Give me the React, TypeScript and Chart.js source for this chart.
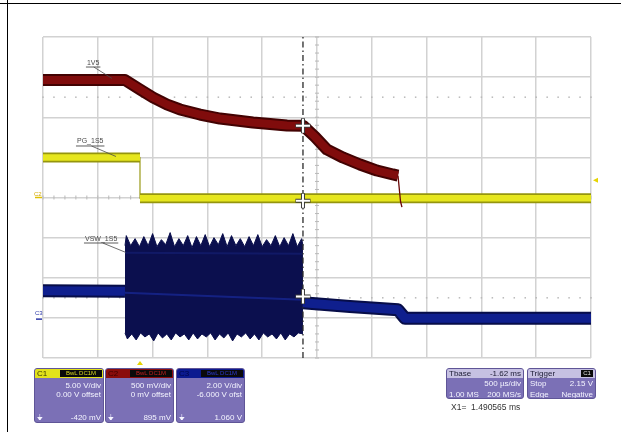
import React, { useEffect, useRef } from "react";
import { Chart, registerables } from "chart.js";
Chart.register(...registerables);

// Time axis: ms from the left edge of the screen, 500 us/div, 10 div
const timeMin = 0;
const timeMax = 5;
const timeDiv = 0.5;
// Channel ranges (8 div): C1 5 V/div, C2 500 mV/div, C3 2 V/div with -6 V offset
const c1Min = -20, c1Max = 20, c1Div = 5;
const c2Min = -2, c2Max = 2;
const c3Min = -2, c3Max = 14;

// C2 (red) "1V5" trace, volts
const v15T = [0, 0.748, 0.885, 1.004, 1.131, 1.25, 1.432, 1.615, 1.916, 2.226, 2.372, 2.482, 2.591, 2.737, 2.892, 3.047, 3.193, 3.239];
const v15V = [1.464, 1.464, 1.346, 1.246, 1.159, 1.097, 1.034, 0.984, 0.934, 0.897, 0.895, 0.755, 0.598, 0.498, 0.411, 0.336, 0.287, 0.274];
const v15DropT = [3.239, 3.262, 3.275];
const v15DropV = [0.274, -0.05, -0.12];

// C1 (yellow) "PG_1S5" trace, volts
const pgHighT = [0, 0.885];
const pgHighV = [5.0, 5.0];
const pgEdgeT = [0.885, 0.885];
const pgEdgeV = [5.0, -0.1];
const pgLowT = [0.885, 5];
const pgLowV = [-0.1, -0.1];

// C3 (blue) "VSW_1S5" trace, volts
const swPreT = [0, 0.748];
const swPreV = [1.35, 1.33];
const swPostT = [2.372, 2.8, 3.239, 3.303, 5];
const swPostV = [0.75, 0.57, 0.4, -0.02, -0.02];
// switching burst envelope (peaks)
const burstTopT = [0.748, 0.76, 0.8, 0.84, 0.88, 0.92, 0.96, 1.0, 1.04, 1.08, 1.12, 1.16, 1.2, 1.24, 1.28, 1.32, 1.36, 1.4, 1.44, 1.48, 1.52, 1.56, 1.6, 1.64, 1.68, 1.72, 1.76, 1.8, 1.84, 1.88, 1.92, 1.96, 2.0, 2.04, 2.08, 2.12, 2.16, 2.2, 2.24, 2.28, 2.32, 2.36, 2.372];
const burstTopV = [3.6, 4.1, 3.6, 3.95, 3.55, 4.05, 3.6, 4.2, 3.55, 3.9, 3.65, 4.25, 3.55, 3.95, 3.6, 4.1, 3.5, 4.05, 3.6, 4.15, 3.55, 4.0, 3.65, 4.2, 3.55, 4.1, 3.6, 3.95, 3.55, 4.05, 3.6, 4.15, 3.55, 3.9, 3.6, 4.1, 3.55, 4.0, 3.6, 4.2, 3.55, 3.95, 3.6];
const burstBotT = [0.748, 0.77, 0.81, 0.85, 0.89, 0.93, 0.97, 1.01, 1.05, 1.09, 1.13, 1.17, 1.21, 1.25, 1.29, 1.33, 1.37, 1.41, 1.45, 1.49, 1.53, 1.57, 1.61, 1.65, 1.69, 1.73, 1.77, 1.81, 1.85, 1.89, 1.93, 1.97, 2.01, 2.05, 2.09, 2.13, 2.17, 2.21, 2.25, 2.29, 2.33, 2.372];
const burstBotV = [-0.75, -1.05, -0.8, -1.1, -0.75, -0.95, -0.8, -1.15, -0.75, -1.0, -0.8, -1.1, -0.75, -0.95, -0.8, -1.1, -0.75, -1.05, -0.8, -0.95, -0.75, -1.1, -0.8, -1.0, -0.75, -1.15, -0.8, -0.95, -0.75, -1.05, -0.8, -1.1, -0.75, -0.95, -0.8, -1.05, -0.75, -1.1, -0.8, -0.95, -0.75, -0.8];
const burstMidT = [0.748, 2.372];
const burstMidV = [1.25, 0.9];
const burstUpperT = [0.748, 2.372];
const burstUpperV = [3.25, 3.2];

// Cursor X1 and the readings at it
const cursorT = 2.372;
const cursorC1 = -0.42;
const cursorC2 = 0.895;
const cursorC3 = 1.06;

// trigger
const triggerT = 0.885;
const triggerLevel = 2.15;

const traceLabels = ["1V5", "PG_1S5", "VSW_1S5"];

const pts = (t: number[], v: number[]) => t.map((x, i) => ({ x, y: v[i] }));

const font = '"Liberation Sans", Arial, sans-serif';

const scopePlugin = {
  id: "scopeDecor",
  beforeDatasetsDraw(chart: any) {
    const { ctx, chartArea } = chart;
    const xs = chart.scales.x;
    const c1 = chart.scales.c1;
    ctx.save();
    // minor ticks on center axes and dotted +/-2.5 div lines
    const minorT = timeDiv / 5;
    const minorV = c1Div / 5;
    const cx = xs.getPixelForValue((timeMin + timeMax) / 2);
    const cy = c1.getPixelForValue(0);
    ctx.fillStyle = "#b8b8b8";
    for (let t = timeMin; t <= timeMax + 1e-6; t += minorT) {
      const px = xs.getPixelForValue(t);
      ctx.fillRect(px - 0.5, cy - 2, 1, 4);
      for (const lv of [2.5 * c1Div, -2.5 * c1Div]) {
        const py = c1.getPixelForValue(lv);
        ctx.fillRect(px - 0.75, py - 0.75, 1.5, 1.5);
      }
    }
    for (let v = c1Min; v <= c1Max + 1e-6; v += minorV) {
      const py = c1.getPixelForValue(v);
      ctx.fillRect(cx - 2, py - 0.5, 4, 1);
    }
    ctx.restore();
  },
  afterDraw(chart: any) {
    const { ctx, chartArea } = chart;
    const xs = chart.scales.x;
    const c1 = chart.scales.c1;
    const c3 = chart.scales.c3;
    ctx.save();
    // trace name annotations
    const ann = [
      { text: traceLabels[0], t: 0.401, v: 16.57, et: 0.63, ev: 14.83 },
      { text: traceLabels[1], t: 0.31, v: 6.73, et: 0.666, ev: 5.11 },
      { text: traceLabels[2], t: 0.383, v: -5.36, et: 0.757, ev: -6.85 },
    ];
    ctx.font = "7px " + font;
    ctx.fillStyle = "#4a4a4a";
    ctx.strokeStyle = "#4a4a4a";
    ctx.textBaseline = "alphabetic";
    for (const a of ann) {
      const px = xs.getPixelForValue(a.t);
      const py = c1.getPixelForValue(a.v);
      ctx.fillText(a.text, px, py);
      const w = ctx.measureText(a.text).width;
      ctx.lineWidth = 0.9;
      ctx.beginPath();
      ctx.moveTo(px - 1, py + 2.5);
      ctx.lineTo(px + w + 1, py + 2.5);
      ctx.stroke();
      ctx.lineWidth = 0.8;
      ctx.beginPath();
      ctx.moveTo(px + w * 0.55, py + 2.5);
      ctx.lineTo(xs.getPixelForValue(a.et), c1.getPixelForValue(a.ev));
      ctx.stroke();
    }
    // trigger position marker (below grid)
    const tx = xs.getPixelForValue(triggerT);
    ctx.fillStyle = "#e6d400";
    ctx.beginPath();
    ctx.moveTo(tx, chartArea.bottom + 3);
    ctx.lineTo(tx - 3, chartArea.bottom + 7);
    ctx.lineTo(tx + 3, chartArea.bottom + 7);
    ctx.closePath();
    ctx.fill();
    // trigger level marker (right)
    const ly = c1.getPixelForValue(triggerLevel);
    ctx.beginPath();
    ctx.moveTo(chartArea.right + 2, ly);
    ctx.lineTo(chartArea.right + 7, ly - 2.5);
    ctx.lineTo(chartArea.right + 7, ly + 2.5);
    ctx.closePath();
    ctx.fill();
    // channel ground markers
    const g1 = c1.getPixelForValue(0);
    ctx.fillStyle = "#e0c000";
    ctx.fillRect(chartArea.left - 8, g1 - 0.75, 7, 1.5);
    ctx.font = "6px " + font;
    ctx.fillStyle = "#d4a800";
    ctx.fillText("C2", chartArea.left - 9, g1 - 2);
    const g3 = c3.getPixelForValue(0);
    ctx.fillStyle = "#2a36a8";
    ctx.fillRect(chartArea.left - 7, g3 + 0.5, 6, 1.5);
    ctx.fillText("C3", chartArea.left - 8, g3 - 3);
    ctx.restore();
  },
};

export default function App() {
  const ref = useRef<HTMLCanvasElement>(null);
  useEffect(() => {
    if (!ref.current) return;
    const thick = (data: any, axis: string, color: string, width: number, order: number) => ({
      type: "line" as const,
      data,
      yAxisID: axis,
      borderColor: color,
      borderWidth: width,
      pointRadius: 0,
      tension: 0,
      fill: false,
      borderJoinStyle: "round" as const,
      borderCapStyle: "butt" as const,
      order,
    });
    const datasets: any[] = [
      // crosses at cursor
      {
        type: "line", data: [{ x: cursorT, y: cursorC2 }], yAxisID: "c2", showLine: false,
        pointStyle: "cross", pointRadius: 7, pointBorderWidth: 2, pointBorderColor: "#ffffff", order: 0,
      },
      {
        type: "line", data: [{ x: cursorT, y: cursorC1 }], yAxisID: "c1", showLine: false,
        pointStyle: "cross", pointRadius: 7, pointBorderWidth: 2, pointBorderColor: "#ffffff", order: 0,
      },
      {
        type: "line", data: [{ x: cursorT, y: cursorC3 }], yAxisID: "c3", showLine: false,
        pointStyle: "cross", pointRadius: 7, pointBorderWidth: 2, pointBorderColor: "#ffffff", order: 0,
      },
      {
        type: "line", data: [{ x: cursorT, y: cursorC2 }, { x: cursorT, y: null }], yAxisID: "c2", showLine: false,
        pointStyle: "cross", pointRadius: 7.5, pointBorderWidth: 4, pointBorderColor: "#3a3a3a", order: 1,
      },
      {
        type: "line", data: [{ x: cursorT, y: cursorC1 }], yAxisID: "c1", showLine: false,
        pointStyle: "cross", pointRadius: 7.5, pointBorderWidth: 4, pointBorderColor: "#3a3a3a", order: 1,
      },
      {
        type: "line", data: [{ x: cursorT, y: cursorC3 }], yAxisID: "c3", showLine: false,
        pointStyle: "cross", pointRadius: 7.5, pointBorderWidth: 4, pointBorderColor: "#3a3a3a", order: 1,
      },
      // cursor line
      {
        type: "line", data: [{ x: cursorT, y: c1Min }, { x: cursorT, y: c1Max }], yAxisID: "c1",
        borderColor: "#2a2a2a", borderWidth: 1.3, borderDash: [6, 3, 1.5, 3], pointRadius: 0, order: 2,
      },
      // red drop edge
      thick(pts(v15DropT, v15DropV), "c2", "#6a0606", 1.3, 3),
      // yellow
      thick(pts(pgHighT, pgHighV), "c1", "#e6e61e", 6.5, 4),
      thick(pts(pgLowT, pgLowV), "c1", "#e6e61e", 6.5, 4),
      thick(pts(pgHighT, pgHighV), "c1", "#95950e", 10, 5),
      thick(pts(pgLowT, pgLowV), "c1", "#95950e", 10, 5),
      thick(pts(pgEdgeT, pgEdgeV), "c1", "#9a9a18", 1.2, 5),
      // red
      thick(pts(v15T, v15V), "c2", "#800c0c", 8, 6),
      thick(pts(v15T, v15V), "c2", "#420202", 12, 7),
      // blue
      thick(pts(swPreT, swPreV), "c3", "#0f1f8e", 9, 8),
      thick(pts(swPostT, swPostV), "c3", "#0f1f8e", 9, 8),
      thick(pts(swPreT, swPreV), "c3", "#070d48", 13, 9),
      thick(pts(swPostT, swPostV), "c3", "#070d48", 13, 9),
      thick(pts(burstMidT, burstMidV), "c3", "rgba(30,50,175,0.55)", 2, 8),
      thick(pts(burstUpperT, burstUpperV), "c3", "rgba(30,45,150,0.35)", 2, 8),
      {
        type: "line", data: pts(burstTopT, burstTopV), yAxisID: "c3", borderColor: "#0a0e4c",
        borderWidth: 1, pointRadius: 0, tension: 0, fill: "+1", backgroundColor: "#0b0f4e", order: 10,
      },
      {
        type: "line", data: pts(burstBotT, burstBotV), yAxisID: "c3", borderColor: "#0a0e4c",
        borderWidth: 1, pointRadius: 0, tension: 0, fill: false, order: 10,
      },
    ];
    const gridColor = "#d2d2d2";
    const chart = new Chart(ref.current, {
      type: "line",
      data: { datasets },
      options: {
        animation: false,
        responsive: false,
        events: [],
        layout: { padding: { left: 43, top: 37, right: 30, bottom: 74 } },
        plugins: { legend: { display: false }, tooltip: { enabled: false } },
        scales: {
          x: {
            type: "linear", min: timeMin, max: timeMax,
            ticks: { stepSize: timeDiv, display: false },
            grid: { color: gridColor, lineWidth: 1.5, drawTicks: false },
            border: { display: false },
          },
          c1: {
            type: "linear", position: "left", min: c1Min, max: c1Max,
            ticks: { stepSize: c1Div, display: false },
            grid: { color: gridColor, lineWidth: 1.5, drawTicks: false },
            border: { display: false },
          },
          c2: { type: "linear", display: false, min: c2Min, max: c2Max },
          c3: { type: "linear", display: false, min: c3Min, max: c3Max },
        },
      } as any,
      plugins: [scopePlugin],
    });
    return () => chart.destroy();
  }, []);

  const box: React.CSSProperties = {
    position: "absolute", background: "#7b70b6", borderRadius: 3, border: "1px solid #5f5597",
    boxSizing: "border-box", overflow: "hidden", color: "#f4f4ff", font: "8px " + font,
  };
  const row = (top: number, content: React.ReactNode, extra: React.CSSProperties = {}) => (
    <div style={{ position: "absolute", left: 2, right: 2, top, height: 10, lineHeight: "10px", display: "flex", justifyContent: "space-between", whiteSpace: "nowrap", ...extra }}>{content}</div>
  );
  const chBox = (left: number, width: number, name: string, hdr: string, hdrText: string, tagText: string, vdiv: string, ofs: string, val: string) => (
    <div style={{ ...box, left, top: 368, width, height: 55 }}>
      <div style={{ position: "absolute", left: 0, top: 0, right: 0, height: 9, background: hdr }} />
      <div style={{ position: "absolute", left: 2, top: 0, height: 9, lineHeight: "9px", color: hdrText, fontSize: 8 }}>{name}</div>
      <div style={{ position: "absolute", right: 1, top: 1, height: 7, width: 42, background: "#0a0a0a", color: tagText, fontSize: 6, lineHeight: "7px", textAlign: "center", whiteSpace: "nowrap" }}>BwL DC1M</div>
      {row(12, <><span /><span>{vdiv}</span></>)}
      {row(21, <><span /><span>{ofs}</span></>)}
      {row(44, <><span>⏚</span><span>{val}</span></>)}
    </div>
  );

  return (
    <div style={{ position: "absolute", left: 0, top: 0, width: 621, height: 432, background: "#ffffff", overflow: "hidden" }}>
      <canvas ref={ref} width={621} height={432} style={{ position: "absolute", left: 0, top: 0, width: 621, height: 432 }} />
      <div style={{ position: "absolute", left: 0, top: 3, width: 621, height: 1.3, background: "#000" }} />
      <div style={{ position: "absolute", left: 6.5, top: 0, width: 1.2, height: 432, background: "#000" }} />
      {chBox(34, 70, "C1", "#e2e21a", "#3a3a00", "#d8d820", "5.00 V/div", "0.00 V offset", "-420 mV")}
      {chBox(105, 69, "C2", "#8a0c0c", "#3a0000", "#c02020", "500 mV/div", "0 mV offset", "895 mV")}
      {chBox(176, 69, "C3", "#0c1a90", "#00064a", "#2a3ad0", "2.00 V/div", "-6.000 V ofst", "1.060 V")}
      <div style={{ ...box, left: 446, top: 368, width: 78, height: 31 }}>
        <div style={{ position: "absolute", left: 0, top: 0, right: 0, height: 9, background: "#c6c1e2" }} />
        {row(-0.5, <><span>Tbase</span><span>-1.62 ms</span></>, { color: "#1c1c34", height: 9, lineHeight: "9px" })}
        {row(10, <><span /><span>500 µs/div</span></>)}
        {row(21, <><span>1.00 MS</span><span>200 MS/s</span></>)}
      </div>
      <div style={{ ...box, left: 527, top: 368, width: 69, height: 31 }}>
        <div style={{ position: "absolute", left: 0, top: 0, right: 0, height: 9, background: "#c6c1e2" }} />
        {row(-0.5, <><span>Trigger</span><span /></>, { color: "#1c1c34", height: 9, lineHeight: "9px" })}
        <div style={{ position: "absolute", right: 2, top: 1, width: 12, height: 7, background: "#0a0a0a", color: "#e0e0e0", fontSize: 6, lineHeight: "7px", textAlign: "center" }}>C1</div>
        {row(10, <><span>Stop</span><span>2.15 V</span></>)}
        {row(21, <><span>Edge</span><span>Negative</span></>)}
      </div>
      <div style={{ position: "absolute", left: 451, top: 402, font: "8.5px " + font, color: "#333", whiteSpace: "pre" }}>X1=  1.490565 ms</div>
    </div>
  );
}
